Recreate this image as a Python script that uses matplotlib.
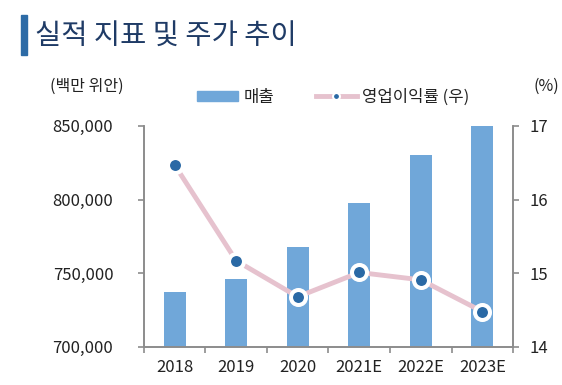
import matplotlib
matplotlib.use("Agg")
import matplotlib.pyplot as plt
import numpy as np
from matplotlib.lines import Line2D
from matplotlib.patches import Patch

plt.rcParams['font.family'] = ['Noto Sans CJK KR', 'DejaVu Sans']

# data
years = ["2018", "2019", "2020", "2021E", "2022E", "2023E"]
sales = [737000, 746000, 768000, 798000, 830000, 850000]      # 백만 위안
op_margin = [16.47, 15.17, 14.68, 15.01, 14.91, 14.48]        # %

bar_color = "#70A7D9"
line_color = "#E6C2CE"
dot_color = "#2A69A5"
spine_color = "#8C8C8C"
text_color = "#222222"

fig = plt.figure(figsize=(5.62, 3.85), dpi=100)
ax = fig.add_axes([0.256, 0.099, 0.657, 0.574])
ax2 = ax.twinx()

x = np.arange(len(years))
ax.bar(x, sales, width=0.36, color=bar_color, zorder=2)
ax.set_ylim(700000, 850000)
ax.set_yticks([700000, 750000, 800000, 850000])
ax.set_yticklabels(["{:,}".format(v) for v in [700000, 750000, 800000, 850000]])
ax.set_xlim(-0.5, len(years) - 0.5)
ax.set_xticks(x)
ax.set_xticklabels(years)
ax.set_xticks(np.arange(-0.5, len(years)), minor=True)
ax.tick_params(axis="x", which="major", length=0, pad=9, labelsize=12, colors=text_color)
ax.tick_params(axis="x", which="minor", length=4, width=1.2, color=spine_color, direction="out")
ax.tick_params(axis="y", length=4, width=1.2, color=spine_color, labelsize=12,
               labelcolor=text_color, pad=18)

ax2.plot(x, op_margin, color=line_color, lw=3.5, zorder=3)
ax2.plot(x, op_margin, ls="None", marker="o", ms=10.8, mfc=dot_color,
         mec="white", mew=2.9, zorder=4)
ax2.set_ylim(14, 17)
ax2.set_yticks([14, 15, 16, 17])
ax2.tick_params(axis="y", length=4, width=1.2, color=spine_color, labelsize=12,
                labelcolor=text_color, pad=8)

for a in (ax, ax2):
    a.spines["top"].set_visible(False)
    for s in ("left", "right", "bottom"):
        a.spines[s].set_color(spine_color)
        a.spines[s].set_linewidth(1.2)

# title with blue marker bar
fig.patches.append(plt.Rectangle((21 / 562, 1 - 55 / 385), 6 / 562, 40 / 385,
                                 transform=fig.transFigure, color="#2D6BA6"))
fig.text(35 / 562, 1 - 36 / 385, "실적 지표 및 주가 추이", fontsize=20.5,
         color="#1F3B66", va="center", ha="left", fontweight="medium")

# axis unit labels
fig.text(87 / 562, 1 - 86 / 385, "(백만 위안)", fontsize=11.5, color=text_color,
         ha="center", va="center")
fig.text(546 / 562, 1 - 86 / 385, "(%)", fontsize=11.5, color=text_color,
         ha="center", va="center")

# legend
handles = [Patch(color=bar_color),
           Line2D([], [], color=line_color, lw=3.5, marker="o", ms=5,
                  mfc=dot_color, mec="white", mew=1.5)]
fig.legend(handles, ["매출", "영업이익률 (우)"], loc="center",
           bbox_to_anchor=(333 / 562, 1 - 97 / 385), ncol=2, frameon=False,
           fontsize=12, handlelength=2.5, handleheight=0.55, columnspacing=2.5,
           handletextpad=0.3, labelcolor=text_color)

fig.savefig("out.png", dpi=100)
